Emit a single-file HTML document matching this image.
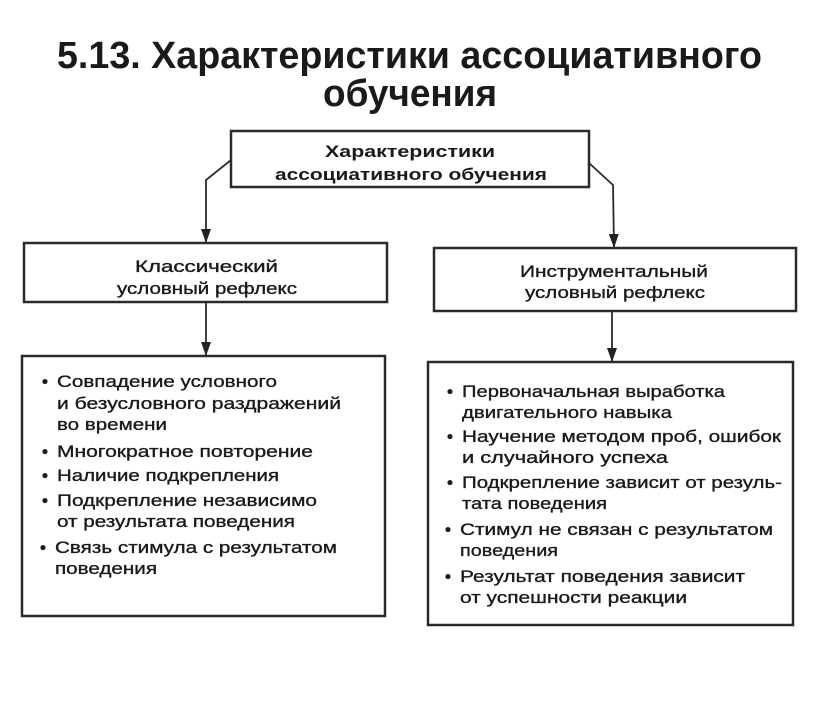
<!DOCTYPE html>
<html><head><meta charset="utf-8"><style>
html,body{margin:0;padding:0;background:#fff;}
svg{display:block}
text{font-family:"Liberation Sans",sans-serif;fill:#1a1a1a}
.b text{stroke:#1a1a1a;stroke-width:0.35}
</style></head><body>
<svg width="816" height="707" viewBox="0 0 816 707" xmlns="http://www.w3.org/2000/svg">
<defs><marker id="a" markerWidth="14" markerHeight="10" refX="13" refY="5" orient="auto" markerUnits="userSpaceOnUse"><path d="M0,0 L14,5 L0,10 Z" fill="#222"/></marker></defs>
<rect x="0" y="0" width="816" height="707" fill="#fff"/>
<text x="57" y="68" font-size="38" font-weight="bold" textLength="705" lengthAdjust="spacingAndGlyphs">5.13. Характеристики ассоциативного</text>
<text x="323" y="106" font-size="38" font-weight="bold" textLength="174" lengthAdjust="spacingAndGlyphs">обучения</text>
<g fill="none" stroke="#2a2a2a" stroke-width="2.5">
<rect x="231" y="131" width="358" height="56"/>
<rect x="24" y="243" width="363" height="59"/>
<rect x="434" y="248" width="362" height="63"/>
<rect x="22" y="356" width="363" height="260"/>
<rect x="428" y="362" width="365" height="263"/>
</g>
<g fill="none" stroke="#2a2a2a" stroke-width="1.8">
<polyline points="231,160 206,180 206,242" marker-end="url(#a)"/>
<polyline points="589,163 613,185 614,247" marker-end="url(#a)"/>
<line x1="206" y1="302" x2="206" y2="355" marker-end="url(#a)"/>
<line x1="612" y1="311" x2="612" y2="361" marker-end="url(#a)"/>
</g>
<g font-weight="bold" font-size="17">
<text x="325" y="157" textLength="170" lengthAdjust="spacingAndGlyphs">Характеристики</text>
<text x="275" y="180" textLength="272" lengthAdjust="spacingAndGlyphs">ассоциативного обучения</text>
</g>
<g font-size="17" class="b">
<text x="135" y="272" textLength="143" lengthAdjust="spacingAndGlyphs">Классический</text>
<text x="117" y="294" textLength="180" lengthAdjust="spacingAndGlyphs">условный рефлекс</text>
<text x="520" y="277" textLength="188" lengthAdjust="spacingAndGlyphs">Инструментальный</text>
<text x="525" y="298" textLength="180" lengthAdjust="spacingAndGlyphs">условный рефлекс</text>
</g>
<g font-size="17" class="b">
<text x="42" y="387" font-weight="bold">•</text>
<text x="57" y="387" textLength="220" lengthAdjust="spacingAndGlyphs">Совпадение условного</text>
<text x="57" y="409" textLength="284" lengthAdjust="spacingAndGlyphs">и безусловного раздражений</text>
<text x="57" y="430" textLength="110" lengthAdjust="spacingAndGlyphs">во времени</text>
<text x="42" y="457" font-weight="bold">•</text>
<text x="57" y="457" textLength="256" lengthAdjust="spacingAndGlyphs">Многократное повторение</text>
<text x="42" y="481" font-weight="bold">•</text>
<text x="57" y="481" textLength="222" lengthAdjust="spacingAndGlyphs">Наличие подкрепления</text>
<text x="42" y="506" font-weight="bold">•</text>
<text x="57" y="506" textLength="260" lengthAdjust="spacingAndGlyphs">Подкрепление независимо</text>
<text x="57" y="527" textLength="238" lengthAdjust="spacingAndGlyphs">от результата поведения</text>
<text x="40" y="553" font-weight="bold">•</text>
<text x="55" y="553" textLength="282" lengthAdjust="spacingAndGlyphs">Связь стимула с результатом</text>
<text x="55" y="574" textLength="102" lengthAdjust="spacingAndGlyphs">поведения</text>

<text x="447" y="397" font-weight="bold">•</text>
<text x="462" y="397" textLength="263" lengthAdjust="spacingAndGlyphs">Первоначальная выработка</text>
<text x="462" y="418" textLength="210" lengthAdjust="spacingAndGlyphs">двигательного навыка</text>
<text x="447" y="442" font-weight="bold">•</text>
<text x="462" y="442" textLength="319" lengthAdjust="spacingAndGlyphs">Научение методом проб, ошибок</text>
<text x="462" y="463" textLength="206" lengthAdjust="spacingAndGlyphs">и случайного успеха</text>
<text x="447" y="488" font-weight="bold">•</text>
<text x="462" y="488" textLength="320" lengthAdjust="spacingAndGlyphs">Подкрепление зависит от резуль-</text>
<text x="462" y="509" textLength="145" lengthAdjust="spacingAndGlyphs">тата поведения</text>
<text x="445" y="535" font-weight="bold">•</text>
<text x="460" y="535" textLength="313" lengthAdjust="spacingAndGlyphs">Стимул не связан с результатом</text>
<text x="460" y="556" textLength="98" lengthAdjust="spacingAndGlyphs">поведения</text>
<text x="445" y="582" font-weight="bold">•</text>
<text x="460" y="582" textLength="285" lengthAdjust="spacingAndGlyphs">Результат поведения зависит</text>
<text x="460" y="603" textLength="227" lengthAdjust="spacingAndGlyphs">от успешности реакции</text>
</g>
</svg>
</body></html>
